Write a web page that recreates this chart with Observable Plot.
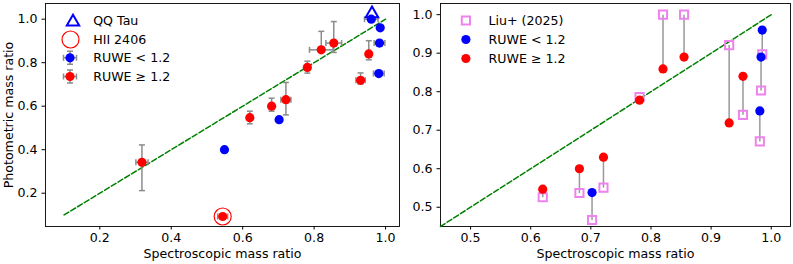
<!DOCTYPE html>
<html>
<head>
<meta charset="utf-8">
<script src="https://cdn.jsdelivr.net/npm/d3@7"></script>
<script src="https://cdn.jsdelivr.net/npm/@observablehq/plot@0.6"></script>
<style>
  body { margin: 0; background: white; }
  #wrap { display: flex; width: 793px; height: 264px; overflow: hidden; }
</style>
</head>
<body>
<div id="wrap"></div>
<script>
// ---- data ----
const specQ  = [0.960, 0.985, 0.983, 0.981, 0.702, 0.549, 0.318, 0.544, 0.620, 0.681, 0.721, 0.781, 0.820, 0.855, 0.930, 0.953];
const photQ  = [1.000, 0.960, 0.890, 0.750, 0.538, 0.400, 0.342, 0.093, 0.547, 0.600, 0.630, 0.778, 0.859, 0.890, 0.719, 0.840];
const ruweHi = [false, false, false, false, false, false, true, true, true, true, true, true, true, true, true, true];
const xErr   = [0.019, 0, 0.015, 0.015, 0, 0, 0.017, 0.014, 0, 0, 0.014, 0, 0.033, 0.022, 0.013, 0];
const yErrLo = [0, 0, 0, 0, 0, 0, 0.130, 0, 0.028, 0.023, 0.070, 0.026, 0.011, 0.043, 0.017, 0.027];
const yErrHi = [0, 0, 0, 0, 0, 0, 0.080, 0, 0.030, 0.037, 0.079, 0.029, 0.085, 0.099, 0.034, 0.061];
const liuQ   = [null, 0.897, 0.803, 0.671, 0.467, null, null, null, 0.526, 0.537, 0.551, 0.786, 1.000, 1.000, 0.921, 0.740];
const qqTauSpec = [0.962], qqTauPhot = [1.025];
const hiiSpec = [0.544], hiiPhot = [0.093];
const oneToOneL = [0.1, 1.0];
const oneToOneR = [0.45, 1.0];
const ticksL = [0.2, 0.4, 0.6, 0.8, 1.0];
const ticksRx = [0.5, 0.6, 0.7, 0.8, 0.9, 1.0];
const ticksRy = [0.5, 0.6, 0.7, 0.8, 0.9, 1.0];
const xLabel = "Spectroscopic mass ratio";
const yLabel = "Photometric mass ratio";
const legendL = ["QQ Tau", "HII 2406", "RUWE < 1.2", "RUWE \u2265 1.2"];
const legendR = ["Liu+ (2025)", "RUWE < 1.2", "RUWE \u2265 1.2"];

const rows = specQ.map((s, i) => ({
  s, p: photQ[i], hi: ruweHi[i], xe: xErr[i], ylo: yErrLo[i], yhi: yErrHi[i], liu: liuQ[i]
}));
const liuRows = rows.filter(d => d.liu != null);
const color = d => d.hi ? "#ff0000" : "#0000ff";

// custom cap symbols
const capH = {draw(c) { c.moveTo(-3, 0); c.lineTo(3, 0); }};
const capV = {draw(c) { c.moveTo(0, -3); c.lineTo(0, 3); }};
const errLegend = {draw(c) {
  const a = 6.5, w = 3;
  c.moveTo(-a, 0); c.lineTo(a, 0); c.moveTo(0, -a); c.lineTo(0, a);
  c.moveTo(-a, -w); c.lineTo(-a, w); c.moveTo(a, -w); c.lineTo(a, w);
  c.moveTo(-w, -a); c.lineTo(w, -a); c.moveTo(-w, a); c.lineTo(w, a);
}};

const FS = 12.6;
const style = {fontFamily: "DejaVu Sans", fontSize: FS + "px", background: "white", color: "black", overflow: "visible"};
const errC = "#8c8c8c";

const yErrRows = rows.filter(d => d.ylo > 0 || d.yhi > 0);
const xErrRows = rows.filter(d => d.xe > 0);

const legText = (labels, i, dx, dy) =>
  Plot.text(labels, {frameAnchor: "top-left", dx, dy, text: d => d, textAnchor: "start", lineAnchor: "middle", fontSize: FS, filter: (d, j) => j === i});

const left = Plot.plot({
  width: 400, height: 264,
  marginLeft: 45, marginRight: 1, marginTop: 3, marginBottom: 38,
  style,
  x: {domain: [0.048, 1.039]},
  y: {domain: [0.047, 1.072]},
  marks: [
    Plot.frame({stroke: "black", strokeWidth: 0.9}),
    Plot.axisX({ticks: ticksL, tickFormat: ".1f", tickSize: 3.5, tickPadding: 3, label: null, fontSize: FS}),
    Plot.axisY({ticks: ticksL, tickFormat: ".1f", tickSize: 3.5, tickPadding: 4.5, label: null, fontSize: FS}),
    Plot.text([xLabel], {frameAnchor: "bottom", dy: 27, text: d => d, textAnchor: "middle", lineAnchor: "middle", fontSize: FS}),
    Plot.text([yLabel], {frameAnchor: "left", dx: -36.5, rotate: -90, text: d => d, textAnchor: "middle", lineAnchor: "middle", fontSize: FS}),
    Plot.line(oneToOneL, {x: d => d, y: d => d, stroke: "green", strokeWidth: 1.5, strokeDasharray: "5.5,2.4"}),
    // error bars
    Plot.link(yErrRows, {x1: "s", x2: "s", y1: d => d.p - d.ylo, y2: d => d.p + d.yhi, stroke: errC, strokeWidth: 1.5}),
    Plot.dot(yErrRows, {x: "s", y: d => d.p - d.ylo, symbol: capH, stroke: errC, strokeWidth: 1.5, r: 3}),
    Plot.dot(yErrRows, {x: "s", y: d => d.p + d.yhi, symbol: capH, stroke: errC, strokeWidth: 1.5, r: 3}),
    Plot.link(xErrRows, {y1: "p", y2: "p", x1: d => d.s - d.xe, x2: d => d.s + d.xe, stroke: errC, strokeWidth: 1.5}),
    Plot.dot(xErrRows, {y: "p", x: d => d.s - d.xe, symbol: capV, stroke: errC, strokeWidth: 1.5, r: 3}),
    Plot.dot(xErrRows, {y: "p", x: d => d.s + d.xe, symbol: capV, stroke: errC, strokeWidth: 1.5, r: 3}),
    Plot.dot(rows, {x: "s", y: "p", r: 4.6, fill: color}),
    Plot.dot(qqTauSpec, {x: d => d, y: (d, i) => qqTauPhot[i], symbol: "triangle", r: 4.6, stroke: "#0000ff", strokeWidth: 2, fill: "none"}),
    Plot.dot(hiiSpec, {x: d => d, y: (d, i) => hiiPhot[i], r: 8.5, stroke: "#ff0000", strokeWidth: 1.2, fill: "none"}),
    // legend
    Plot.dot([0], {frameAnchor: "top-left", dx: 27.5, dy: 18.5, symbol: "triangle", r: 4.6, stroke: "#0000ff", strokeWidth: 2, fill: "none"}),
    Plot.dot([0], {frameAnchor: "top-left", dx: 25, dy: 36, r: 8.5, stroke: "#ff0000", strokeWidth: 1.2, fill: "none"}),
    Plot.dot([0], {frameAnchor: "top-left", dx: 24.5, dy: 54.3, symbol: errLegend, r: 3, stroke: errC, strokeWidth: 1.5}),
    Plot.dot([0], {frameAnchor: "top-left", dx: 24.5, dy: 54.3, r: 4.6, fill: "#0000ff"}),
    Plot.dot([0], {frameAnchor: "top-left", dx: 24.5, dy: 73, symbol: errLegend, r: 3, stroke: errC, strokeWidth: 1.5}),
    Plot.dot([0], {frameAnchor: "top-left", dx: 24.5, dy: 73, r: 4.6, fill: "#ff0000"}),
    legText(legendL, 0, 47.7, 17),
    legText(legendL, 1, 47.7, 36),
    legText(legendL, 2, 47.7, 54.5),
    legText(legendL, 3, 47.7, 73)
  ]
});

const right = Plot.plot({
  width: 393, height: 264,
  marginLeft: 40, marginRight: 3, marginTop: 3, marginBottom: 38,
  style,
  x: {domain: [0.45, 1.032]},
  y: {domain: [0.45, 1.029]},
  marks: [
    Plot.frame({stroke: "black", strokeWidth: 0.9}),
    Plot.axisX({ticks: ticksRx, tickFormat: ".1f", tickSize: 3.5, tickPadding: 3, label: null, fontSize: FS}),
    Plot.axisY({ticks: ticksRy, tickFormat: ".1f", tickSize: 3.5, tickPadding: 4.5, label: null, fontSize: FS}),
    Plot.text([xLabel], {frameAnchor: "bottom", dy: 27, text: d => d, textAnchor: "middle", lineAnchor: "middle", fontSize: FS}),
    Plot.line(oneToOneR, {x: d => d, y: d => d, stroke: "green", strokeWidth: 1.5, strokeDasharray: "5.5,2.4"}),
    Plot.link(liuRows, {x1: "s", x2: "s", y1: "p", y2: "liu", stroke: "#999999", strokeWidth: 1.5}),
    Plot.dot(liuRows, {x: "s", y: "liu", symbol: "square", r: 4.6, stroke: "violet", strokeWidth: 2, fill: "none"}),
    Plot.dot(liuRows, {x: "s", y: "p", r: 4.6, fill: color}),
    // legend
    Plot.dot([0], {frameAnchor: "top-left", dx: 25.4, dy: 17, symbol: "square", r: 4.6, stroke: "violet", strokeWidth: 2, fill: "none"}),
    Plot.dot([0], {frameAnchor: "top-left", dx: 25.4, dy: 36, r: 4.6, fill: "#0000ff"}),
    Plot.dot([0], {frameAnchor: "top-left", dx: 25.4, dy: 55, r: 4.6, fill: "#ff0000"}),
    legText(legendR, 0, 48, 17),
    legText(legendR, 1, 48, 36),
    legText(legendR, 2, 48, 55)
  ]
});

document.getElementById("wrap").append(left, right);
</script>
</body>
</html>
